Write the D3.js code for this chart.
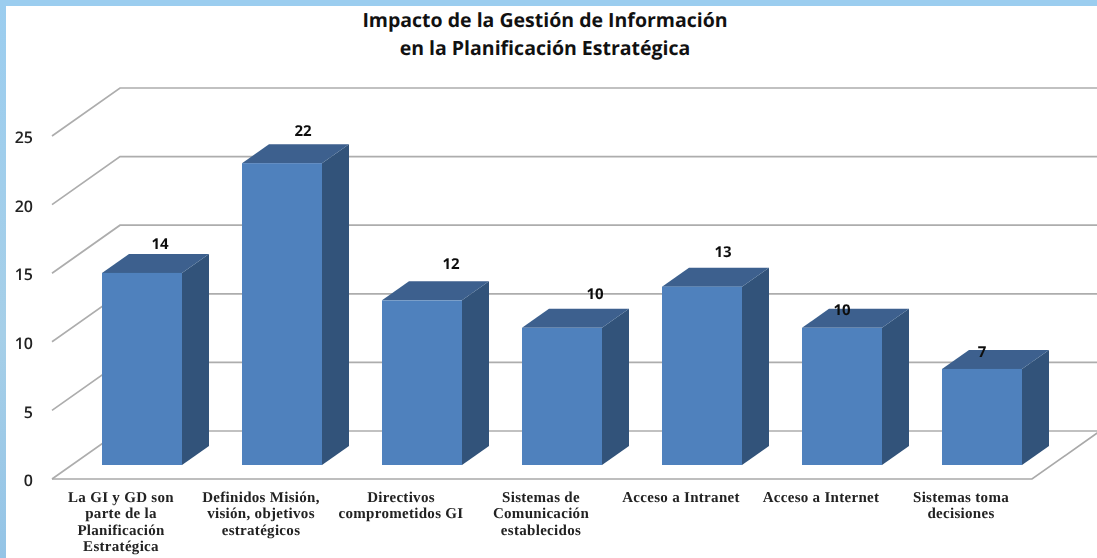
<!DOCTYPE html>
<html><head><meta charset="utf-8">
<script src="https://cdn.jsdelivr.net/npm/d3@7/dist/d3.min.js"></script>
<style>
html,body{margin:0;padding:0;background:#fff;overflow:hidden}
svg{display:block}
text{text-rendering:geometricPrecision}
</style></head><body>
<script>
const categories = [
  ["La GI y GD son","parte de la","Planificación","Estratégica"],
  ["Definidos Misión,","visión, objetivos","estratégicos"],
  ["Directivos","comprometidos GI"],
  ["Sistemas de","Comunicación","establecidos"],
  ["Acceso a Intranet"],
  ["Acceso a Internet"],
  ["Sistemas toma","decisiones"]
];
const values = [14,22,12,10,13,10,7];
const yTicks = [0,5,10,15,20,25];
const titleLines = ["Impacto de la Gestión de Información","en la Planificación Estratégica"];
const labelDx = [18,21,29,33,21,0,0];
const labelBaseline = [249,136,269,299,257,315,357];

const W=1097,H=558;
const svg=d3.select("body").append("svg").attr("width",W).attr("height",H);
const defs=svg.append("defs");
const g=defs.append("linearGradient").attr("id","frame").attr("x1",0).attr("x2",0).attr("y1",0).attr("y2",1);
g.append("stop").attr("offset",0).attr("stop-color","#9bcdef");
g.append("stop").attr("offset",0.6).attr("stop-color","#a6cfe8");
g.append("stop").attr("offset",1).attr("stop-color","#94c4e6");
const soft=defs.append("filter").attr("id","soft");
soft.append("feGaussianBlur").attr("stdDeviation",0.4);

svg.append("rect").attr("width",W).attr("height",H).attr("fill","#fff");
svg.append("rect").attr("width",6).attr("height",H).attr("fill","url(#frame)");
svg.append("rect").attr("width",W).attr("height",6).attr("fill","#9bcdef");

const x=d3.scaleBand().domain(d3.range(categories.length)).range([52,1032]);
const yFront=d3.scaleLinear().domain([0,25]).range([479,136]);
const depthX=68, depthY=48;
const yBack=v=>yFront(v)-depthY;
const yBar=d3.scaleLinear().domain([0,25]).range([465,122]);
const barW=80, bdx=27, bdy=19;

const plot=svg.append("g").attr("filter","url(#soft)");

const grid=plot.append("g");
yTicks.forEach(v=>{
  grid.append("path")
    .attr("d",`M${x.range()[0]},${yFront(v)}L${x.range()[0]+depthX},${yBack(v)}L${W},${yBack(v)}`)
    .attr("fill","none").attr("stroke","#adadad").attr("stroke-width",1.7);
});
plot.append("path")
  .attr("d",`M${x.range()[0]},${yFront(0)}L${x.range()[1]},${yFront(0)}L${x.range()[1]+depthX},${yBack(0)}`)
  .attr("fill","none").attr("stroke","#a9a9a9").attr("stroke-width",1.6);

const bars=plot.selectAll("g.bar").data(values).join("g").attr("class","bar")
  .attr("transform",(d,i)=>`translate(${x(i)+50},0)`);
bars.append("path").attr("fill","#30527a")
  .attr("d",d=>`M${barW},${yBar(d)}L${barW+bdx},${yBar(d)-bdy}L${barW+bdx},${yBar(0)-bdy}L${barW},${yBar(0)}Z`);
bars.append("path").attr("fill","#3c618e")
  .attr("d",d=>`M0,${yBar(d)}L${bdx},${yBar(d)-bdy}L${barW+bdx},${yBar(d)-bdy}L${barW},${yBar(d)}Z`);
bars.append("rect").attr("x",0).attr("width",barW).attr("y",d=>yBar(d)).attr("height",d=>yBar(0)-yBar(d)).attr("fill","#4f81bd");

plot.selectAll("text.val").data(values).join("text").attr("class","val")
  .attr("x",(d,i)=>x(i)+50+barW/2+labelDx[i])
  .attr("y",(d,i)=>labelBaseline[i])
  .attr("text-anchor","middle")
  .attr("font-family","'Open Sans',sans-serif").attr("font-weight",700).attr("font-size",15).attr("fill","#111")
  .text(d=>d);

const axis=d3.axisLeft(yFront).tickValues(yTicks).tickSize(0).tickPadding(0);
const ax=plot.append("g").attr("transform","translate(33,1.5)").call(axis);
ax.select(".domain").remove();
ax.selectAll("text").attr("font-family","'Open Sans',sans-serif").attr("font-size",16).attr("font-weight",600).attr("fill","#222");

categories.forEach((lines,i)=>{
  const t=plot.append("text").attr("text-anchor","middle")
    .attr("font-family","'Liberation Serif',serif").attr("font-weight",700).attr("font-size",15).attr("letter-spacing",0.3).attr("fill","#222");
  lines.forEach((l,j)=>t.append("tspan").attr("x",x(i)+x.bandwidth()/2-1).attr("y",501.5+j*16.6).text(l));
});

titleLines.forEach((l,i)=>{
  svg.append("text").attr("x",545).attr("y",26.5+i*28).attr("text-anchor","middle")
    .attr("font-family","'Open Sans',sans-serif").attr("font-weight",700).attr("font-size",19.5).attr("fill","#111").text(l);
});
</script>
</body></html>
